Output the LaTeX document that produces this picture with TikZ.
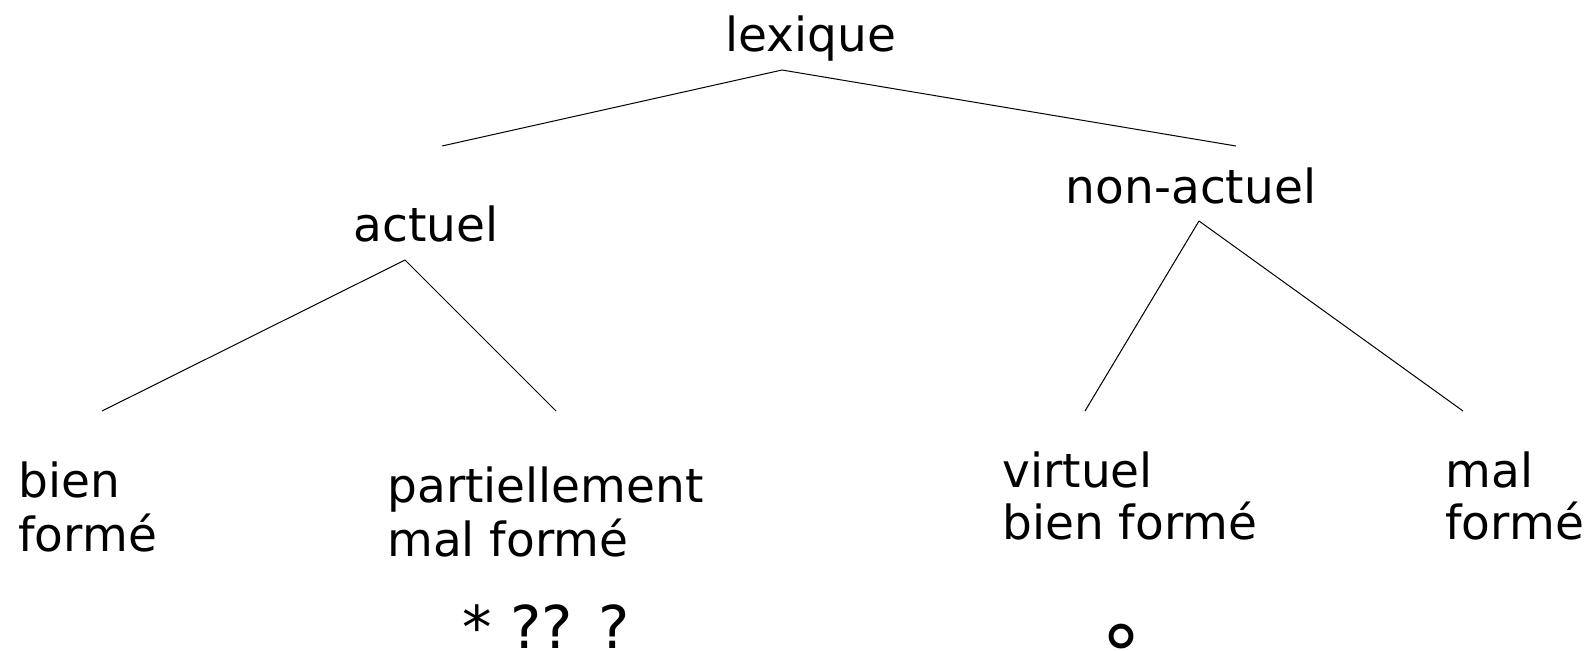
\documentclass[tikz,border=0pt]{standalone}
\usepackage{fontspec}
\setmainfont{DejaVu Sans}
\usepackage{tikz}
\usetikzlibrary{positioning}

\begin{document}
\begin{tikzpicture}[x=0.5pt,y=-0.5pt,
    etiquette/.style={inner sep=0pt, align=left, font=\fontsize{23.5}{27}\selectfont},
    jugement/.style={inner sep=0pt, font=\fontsize{29.5}{33}\selectfont},
    branche/.style={line width=0.5pt}]
    \useasboundingbox (0,0) rectangle (1590,650);

    % Racine
    \node[etiquette, anchor=base] (lex) at (811,51) {lexique};

    % Niveau 1
    \node[etiquette, anchor=base] (act) at (426,241) {actuel};
    \node[etiquette, anchor=base] (nonact) at (1191,203) {non-actuel};

    % Feuilles (ancre sur la derniere ligne)
    \node[etiquette, anchor=base west] (bien) at (18,551) {bien\\formé};
    \node[etiquette, anchor=base west] (partiel) at (387,556) {partiellement\\mal formé};
    \node[etiquette, anchor=base west, font=\fontsize{23.5}{26}\selectfont] (virtuel) at (1002,539) {virtuel\\bien formé};
    \node[etiquette, anchor=base west, font=\fontsize{23.5}{26}\selectfont] (mal) at (1445,539) {mal\\formé};

    % Jugements
    \node[jugement, anchor=base west] (etoiles) at (462,648) {* ?? ?};
    \node[jugement, anchor=base, font=\fontsize{40}{40}\selectfont] (degre) at (1121,683) {°};

    % Points d'attache des branches
    \coordinate (lex_bas) at (782,70);
    \coordinate (act_haut) at (442,146);
    \coordinate (nonact_haut) at (1236,146);
    \coordinate (act_bas) at (405,260);
    \coordinate (bien_haut) at (102,411);
    \coordinate (partiel_haut) at (556,411);
    \coordinate (nonact_bas) at (1199,221);
    \coordinate (virtuel_haut) at (1085,411);
    \coordinate (mal_haut) at (1463,411);

    % Branches
    \draw[branche] (lex_bas) -- (act_haut);
    \draw[branche] (lex_bas) -- (nonact_haut);
    \draw[branche] (act_bas) -- (bien_haut);
    \draw[branche] (act_bas) -- (partiel_haut);
    \draw[branche] (nonact_bas) -- (virtuel_haut);
    \draw[branche] (nonact_bas) -- (mal_haut);
\end{tikzpicture}
\end{document}
